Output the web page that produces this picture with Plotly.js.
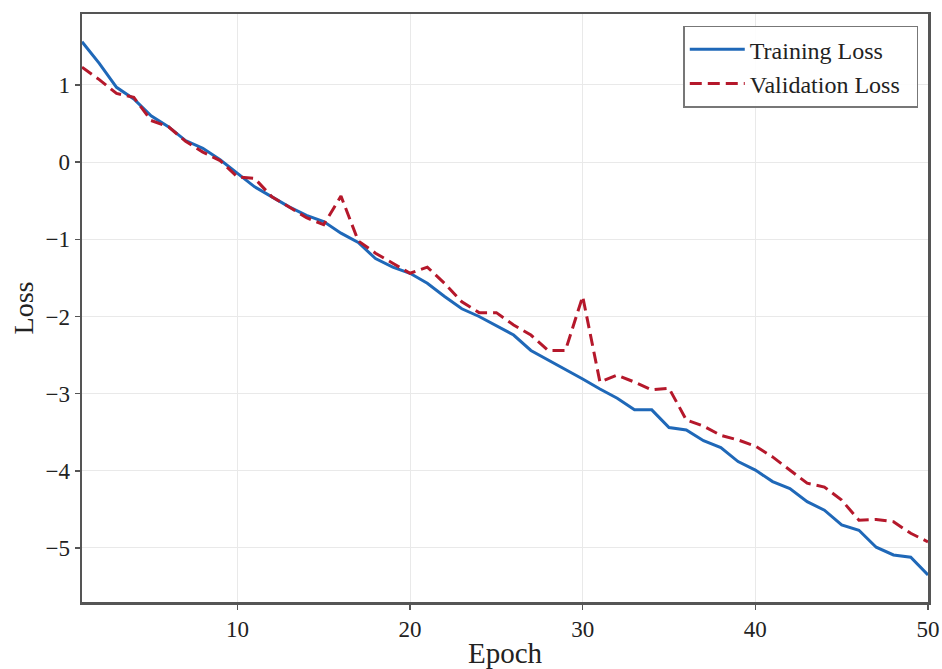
<!DOCTYPE html>
<html>
<head>
<meta charset="utf-8">
<script src="https://cdn.plot.ly/plotly-3.0.1.min.js"></script>
<style>html,body{margin:0;padding:0;background:#fff;}#chart{width:942px;height:669px;}</style>
</head>
<body>
<div id="chart"></div>
<script>
const epochs = [];
for (let e = 1; e <= 50; e++) epochs.push(e);

const trainingLoss = [1.56, 1.28, 0.97, 0.82, 0.60, 0.46, 0.28, 0.18, 0.03, -0.15,
  -0.32, -0.45, -0.58, -0.69, -0.77, -0.92, -1.04, -1.25, -1.36, -1.44,
  -1.57, -1.74, -1.90, -2.00, -2.12, -2.24, -2.44, -2.56, -2.69, -2.81,
  -2.94, -3.06, -3.21, -3.21, -3.44, -3.47, -3.61, -3.70, -3.88, -3.99,
  -4.14, -4.23, -4.40, -4.51, -4.70, -4.77, -4.99, -5.09, -5.12, -5.35];

const validationLoss = [1.23, 1.07, 0.89, 0.84, 0.54, 0.46, 0.27, 0.13, 0.02, -0.19,
  -0.21, -0.45, -0.58, -0.72, -0.81, -0.44, -1.02, -1.18, -1.31, -1.44,
  -1.36, -1.57, -1.81, -1.95, -1.95, -2.11, -2.24, -2.44, -2.44, -1.74,
  -2.85, -2.76, -2.85, -2.95, -2.93, -3.34, -3.42, -3.54, -3.60, -3.68,
  -3.82, -3.99, -4.16, -4.21, -4.38, -4.64, -4.63, -4.66, -4.81, -4.92];

const xTicks = [10, 20, 30, 40, 50];
const yTicks = [1, 0, -1, -2, -3, -4, -5];
const seriesNames = ['Training Loss', 'Validation Loss'];

const serif = '"Liberation Serif", "Times New Roman", serif';

const traces = [
  {x: epochs, y: trainingLoss, type: 'scatter', mode: 'lines', name: seriesNames[0] + '\u00a0\u00a0',
   legendgroup: 'a', line: {color: '#1f68b8', width: 3}},
  {x: epochs, y: validationLoss, type: 'scatter', mode: 'lines', name: seriesNames[1] + '\u00a0\u00a0',
   legendgroup: 'b', line: {color: '#b5182b', width: 3, dash: '12px,6px'}}
];

const layout = {
  width: 942, height: 669,
  margin: {l: 82, r: 14, t: 14, b: 67},
  paper_bgcolor: '#fff', plot_bgcolor: '#fff',
  font: {family: serif, color: '#222', size: 16},
  showlegend: true,
  legend: {x: 0.9885, y: 0.98, xanchor: 'right', yanchor: 'top',
    bgcolor: 'rgba(255,255,255,0.9)', bordercolor: '#777', borderwidth: 1.5,
    font: {family: serif, size: 24, color: '#222'}, tracegroupgap: 0,
    traceorder: 'grouped', itemwidth: 55},
  xaxis: {
    range: [1, 50], tickvals: xTicks, ticktext: xTicks.map(String),
    showgrid: true, gridcolor: '#e9e9e9', gridwidth: 1,
    showline: true, linecolor: '#555', linewidth: 2.5, mirror: true,
    ticks: 'outside', ticklen: 5, tickcolor: '#555', tickwidth: 1.5,
    zeroline: false, automargin: false,
    tickfont: {family: serif, size: 23, color: '#222'},
    title: {text: 'Epoch', font: {family: serif, size: 29, color: '#222'}, standoff: 2}
  },
  yaxis: {
    range: [-5.70, 1.92], tickvals: yTicks, ticktext: yTicks.map(v => v < 0 ? '\u2212' + Math.abs(v) : String(v)),
    showgrid: true, gridcolor: '#e9e9e9', gridwidth: 1,
    showline: true, linecolor: '#555', linewidth: 2.5, mirror: true,
    ticks: 'outside', ticklen: 5, tickcolor: '#555', tickwidth: 1.5,
    zeroline: false, automargin: false,
    tickfont: {family: serif, size: 23, color: '#222'},
    title: {text: 'Loss', font: {family: serif, size: 28, color: '#222'}, standoff: 4}
  }
};

Plotly.newPlot('chart', traces, layout, {displayModeBar: false, staticPlot: true});
</script>
</body>
</html>
